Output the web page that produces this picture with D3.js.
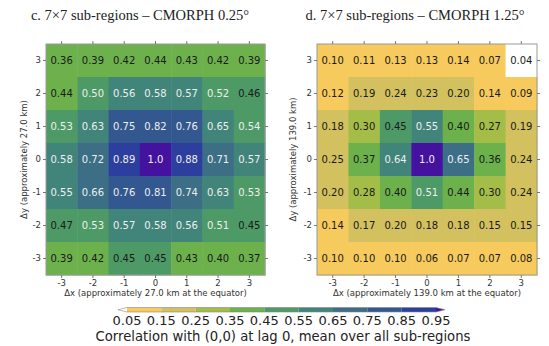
<!DOCTYPE html>
<html><head><meta charset="utf-8">
<script src="https://cdn.jsdelivr.net/npm/d3@7"></script>
<style>body{margin:0;background:#fff}svg{display:block}</style>
</head><body>
<svg id="chart" width="549" height="346"></svg>
<script>
const xCats = [-3, -2, -1, 0, 1, 2, 3];
const yCats = [3, 2, 1, 0, -1, -2, -3];
// rows from Δy = 3 (top) to Δy = -3 (bottom), columns Δx = -3..3
const valuesC = [
  [0.36, 0.39, 0.42, 0.44, 0.43, 0.42, 0.39],
  [0.44, 0.50, 0.56, 0.58, 0.57, 0.52, 0.46],
  [0.53, 0.63, 0.75, 0.82, 0.76, 0.648, 0.54],
  [0.58, 0.72, 0.89, 1.0, 0.88, 0.71, 0.57],
  [0.55, 0.66, 0.76, 0.81, 0.74, 0.63, 0.53],
  [0.47, 0.53, 0.57, 0.58, 0.56, 0.51, 0.45],
  [0.39, 0.42, 0.45, 0.45, 0.43, 0.40, 0.37]
];
const valuesD = [
  [0.10, 0.11, 0.13, 0.13, 0.14, 0.07, 0.04],
  [0.12, 0.19, 0.24, 0.23, 0.20, 0.14, 0.09],
  [0.18, 0.30, 0.45, 0.55, 0.40, 0.27, 0.19],
  [0.248, 0.37, 0.64, 1.0, 0.652, 0.36, 0.24],
  [0.20, 0.28, 0.40, 0.51, 0.44, 0.30, 0.24],
  [0.14, 0.17, 0.20, 0.18, 0.18, 0.15, 0.15],
  [0.10, 0.10, 0.10, 0.06, 0.07, 0.07, 0.08]
];
const binEdges = [0.05, 0.15, 0.25, 0.35, 0.45, 0.55, 0.65, 0.75, 0.85, 0.95];
const binColors = ["#ffffff", "#f6ca5c", "#d3c05e", "#a4bd48", "#6cb14c", "#4d9a67",
                   "#41857a", "#3c6e86", "#33578f", "#2d3f9e", "#45129f"];
const cbTickLabels = ["0.05", "0.15", "0.25", "0.35", "0.45", "0.55", "0.65", "0.75", "0.85", "0.95"];
const titles = ["c. 7\u00d77 sub-regions \u2013 CMORPH 0.25\u00b0", "d. 7\u00d77 sub-regions \u2013 CMORPH 1.25\u00b0"];
const xLabels = ["\u0394x (approximately 27.0 km at the equator)", "\u0394x (approximately 139.0 km at the equator)"];
const yLabels = ["\u0394y (approximately 27.0 km)", "\u0394y (approximately 139.0 km)"];
const cbLabel = "Correlation with (0,0) at lag 0, mean over all sub-regions";

const svg = d3.select("#chart");
const color = d3.scaleThreshold().domain(binEdges).range(binColors);
const fmt = v => v === 1 ? "1.0" : d3.format(".2f")(v);
const sans = "'DejaVu Sans', sans-serif";

const panels = [
  {vals: valuesC, x0: 46, x1: 265, titleX: 140, ylabX: 27},
  {vals: valuesD, x0: 317, x1: 537, titleX: 415, ylabX: 296}
];
const yTop = 44, yBot = 275;

panels.forEach((p, i) => {
  const x = d3.scaleBand().domain(xCats).range([p.x0, p.x1]);
  const y = d3.scaleBand().domain(yCats).range([yTop, yBot]);
  const g = svg.append("g");
  const cells = [];
  p.vals.forEach((row, r) => row.forEach((v, c) => cells.push({x: xCats[c], y: yCats[r], v})));
  g.selectAll("rect.cell").data(cells).join("rect")
    .attr("x", d => x(d.x)).attr("y", d => y(d.y))
    .attr("width", x.bandwidth() + 0.5).attr("height", y.bandwidth() + 0.5)
    .attr("fill", d => color(d.v));
  g.selectAll("text.val").data(cells).join("text")
    .attr("x", d => x(d.x) + x.bandwidth() / 2)
    .attr("y", d => y(d.y) + y.bandwidth() / 2)
    .attr("dy", "0.36em")
    .attr("text-anchor", "middle")
    .attr("font-family", sans).attr("font-size", 10)
    .attr("fill", d => d.v >= 0.5 ? "#eeeeee" : "#1a1a1a")
    .text(d => fmt(d.v));
  // frame
  g.append("rect").attr("x", p.x0).attr("y", yTop).attr("width", p.x1 - p.x0).attr("height", yBot - yTop)
    .attr("fill", "none").attr("stroke", "#9a9a9a").attr("stroke-width", 1);
  // axes
  const axB = d3.axisBottom(x).tickSize(3).tickPadding(2);
  const axL = d3.axisLeft(y).tickSize(3).tickPadding(2);
  const axT = d3.axisTop(x).tickSize(3).tickFormat("");
  const axR = d3.axisRight(y).tickSize(3).tickFormat("");
  const style = sel => {
    sel.select(".domain").remove();
    sel.selectAll(".tick line").attr("stroke", "#777");
    sel.selectAll(".tick text").attr("font-family", sans).attr("font-size", 8.5).attr("fill", "#333");
  };
  g.append("g").attr("transform", `translate(0,${yBot})`).call(axB).call(style);
  g.append("g").attr("transform", `translate(${p.x0},0)`).call(axL).call(style);
  g.append("g").attr("transform", `translate(0,${yTop})`).call(axT).call(style);
  g.append("g").attr("transform", `translate(${p.x1},0)`).call(axR).call(style);
  // labels
  g.append("text").attr("x", (p.x0 + p.x1) / 2).attr("y", 296)
    .attr("text-anchor", "middle").attr("font-family", sans).attr("font-size", 8.5).attr("fill", "#333")
    .text(xLabels[i]);
  g.append("text").attr("transform", `translate(${p.ylabX},${(yTop + yBot) / 2}) rotate(-90)`)
    .attr("text-anchor", "middle").attr("font-family", sans).attr("font-size", 8.5).attr("fill", "#333")
    .text(yLabels[i]);
  g.append("text").attr("x", p.titleX).attr("y", 20)
    .attr("text-anchor", "middle").attr("font-family", "'Liberation Serif', serif").attr("font-size", 14.5).attr("fill", "#222")
    .text(titles[i]);
});

// colorbar
const cb = d3.scaleLinear().domain([0.05, 0.95]).range([127, 436]);
const cbY = 307.5, cbH = 4.5, ext = 9;
const cg = svg.append("g");
const bins = d3.range(binEdges.length - 1).map(k => ({a: binEdges[k], b: binEdges[k + 1], c: binColors[k + 1]}));
cg.selectAll("rect").data(bins).join("rect")
  .attr("x", d => cb(d.a)).attr("y", cbY).attr("width", d => cb(d.b) - cb(d.a)).attr("height", cbH)
  .attr("fill", d => d.c);
const xl = cb(0.05), xr = cb(0.95);
cg.append("path").attr("d", `M${xl},${cbY}L${xl - ext},${cbY + cbH / 2}L${xl},${cbY + cbH}Z`).attr("fill", binColors[0]);
cg.append("path").attr("d", `M${xr},${cbY}L${xr + ext},${cbY + cbH / 2}L${xr},${cbY + cbH}Z`).attr("fill", binColors[binColors.length - 1]);
cg.append("path")
  .attr("d", `M${xl},${cbY}L${xr},${cbY}L${xr + ext},${cbY + cbH / 2}L${xr},${cbY + cbH}L${xl},${cbY + cbH}L${xl - ext},${cbY + cbH / 2}Z`)
  .attr("fill", "none").attr("stroke", "#888").attr("stroke-width", 0.6);
cg.selectAll("text.tk").data(binEdges).join("text")
  .attr("x", d => cb(d)).attr("y", 325)
  .attr("text-anchor", "middle").attr("font-family", sans).attr("font-size", 13).attr("fill", "#222")
  .text((d, k) => cbTickLabels[k]);
cg.append("text").attr("x", 283).attr("y", 341)
  .attr("text-anchor", "middle").attr("font-family", sans).attr("font-size", 13.2).attr("fill", "#222")
  .text(cbLabel);
</script>
</body></html>
